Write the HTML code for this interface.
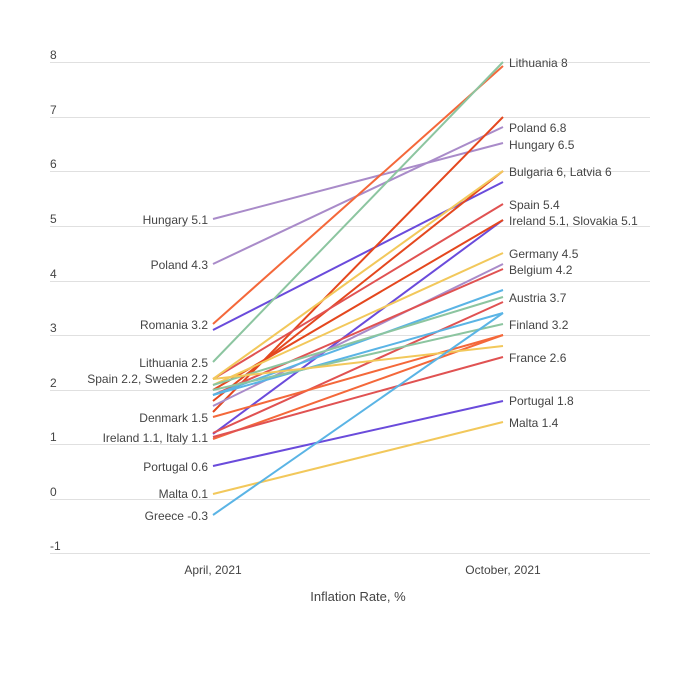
<!DOCTYPE html><html><head><meta charset="utf-8"><style>body{margin:0;background:#fff}svg{display:block;font-family:"Liberation Sans",sans-serif}</style></head><body>
<svg width="700" height="700" xmlns="http://www.w3.org/2000/svg">
<rect width="700" height="700" fill="#fff"/>
<g stroke="#e0e0e0" stroke-width="1">
<line x1="50" x2="650" y1="62.5" y2="62.5"/><line x1="50" x2="650" y1="117.5" y2="117.5"/><line x1="50" x2="650" y1="171.5" y2="171.5"/><line x1="50" x2="650" y1="226.5" y2="226.5"/><line x1="50" x2="650" y1="281.5" y2="281.5"/><line x1="50" x2="650" y1="335.5" y2="335.5"/><line x1="50" x2="650" y1="390.5" y2="390.5"/><line x1="50" x2="650" y1="444.5" y2="444.5"/><line x1="50" x2="650" y1="499.5" y2="499.5"/><line x1="50" x2="650" y1="553.5" y2="553.5"/>
</g>
<g font-size="12" fill="#444">
<text x="50" y="59">8</text><text x="50" y="114">7</text><text x="50" y="168">6</text><text x="50" y="223">5</text><text x="50" y="278">4</text><text x="50" y="332">3</text><text x="50" y="387">2</text><text x="50" y="441">1</text><text x="50" y="496">0</text><text x="50" y="550">-1</text>
</g>
<g stroke-width="2" fill="none">
<line x1="213" y1="219" x2="503" y2="143" stroke="#a98bc9"/>
<line x1="213" y1="264" x2="503" y2="127" stroke="#a98bc9"/>
<line x1="213" y1="324" x2="503" y2="66" stroke="#f4683a"/>
<line x1="213" y1="330" x2="503" y2="182" stroke="#6a4bdb"/>
<line x1="213" y1="362" x2="503" y2="62" stroke="#8cc5a0"/>
<line x1="213" y1="412" x2="503" y2="117" stroke="#e4471e"/>
<line x1="213" y1="401" x2="503" y2="171" stroke="#e4471e"/>
<line x1="213" y1="434" x2="503" y2="220" stroke="#6a4bdb"/>
<line x1="213" y1="379" x2="503" y2="204" stroke="#e05252"/>
<line x1="213" y1="390" x2="503" y2="220" stroke="#e4471e"/>
<line x1="213" y1="379" x2="503" y2="171" stroke="#f2c85b"/>
<line x1="213" y1="385" x2="503" y2="253" stroke="#f2c85b"/>
<line x1="213" y1="406" x2="503" y2="264" stroke="#a98bc9"/>
<line x1="213" y1="395" x2="503" y2="269" stroke="#e05252"/>
<line x1="213" y1="395" x2="503" y2="290" stroke="#5ab4e5"/>
<line x1="213" y1="385" x2="503" y2="297" stroke="#8cc5a0"/>
<line x1="213" y1="433" x2="503" y2="302" stroke="#e05252"/>
<line x1="213" y1="395" x2="503" y2="313" stroke="#5ab4e5"/>
<line x1="213" y1="390" x2="503" y2="324" stroke="#8cc5a0"/>
<line x1="213" y1="417" x2="503" y2="335" stroke="#f4683a"/>
<line x1="213" y1="439" x2="503" y2="335" stroke="#f4683a"/>
<line x1="213" y1="379" x2="503" y2="346" stroke="#f2c85b"/>
<line x1="213" y1="437" x2="503" y2="357" stroke="#e05252"/>
<line x1="213" y1="466" x2="503" y2="401" stroke="#6a4bdb"/>
<line x1="213" y1="494" x2="503" y2="422" stroke="#f2c85b"/>
<line x1="213" y1="515" x2="503" y2="313" stroke="#5ab4e5"/>
</g>
<g font-size="12" fill="#444" text-anchor="end">
<text x="208" y="224">Hungary 5.1</text><text x="208" y="269">Poland 4.3</text><text x="208" y="329">Romania 3.2</text><text x="208" y="367">Lithuania 2.5</text><text x="208" y="383">Spain 2.2, Sweden 2.2</text><text x="208" y="422">Denmark 1.5</text><text x="208" y="442">Ireland 1.1, Italy 1.1</text><text x="208" y="471">Portugal 0.6</text><text x="208" y="498">Malta 0.1</text><text x="208" y="520">Greece -0.3</text>
</g>
<g font-size="12" fill="#444">
<text x="509" y="67">Lithuania 8</text><text x="509" y="132">Poland 6.8</text><text x="509" y="149">Hungary 6.5</text><text x="509" y="176">Bulgaria 6, Latvia 6</text><text x="509" y="209">Spain 5.4</text><text x="509" y="225">Ireland 5.1, Slovakia 5.1</text><text x="509" y="258">Germany 4.5</text><text x="509" y="274">Belgium 4.2</text><text x="509" y="302">Austria 3.7</text><text x="509" y="329">Finland 3.2</text><text x="509" y="362">France 2.6</text><text x="509" y="405">Portugal 1.8</text><text x="509" y="427">Malta 1.4</text>
</g>
<g font-size="12" fill="#444" text-anchor="middle">
<text x="213" y="574">April, 2021</text><text x="503" y="574">October, 2021</text>
<text x="358" y="601" font-size="13">Inflation Rate, %</text>
</g>
</svg></body></html>
